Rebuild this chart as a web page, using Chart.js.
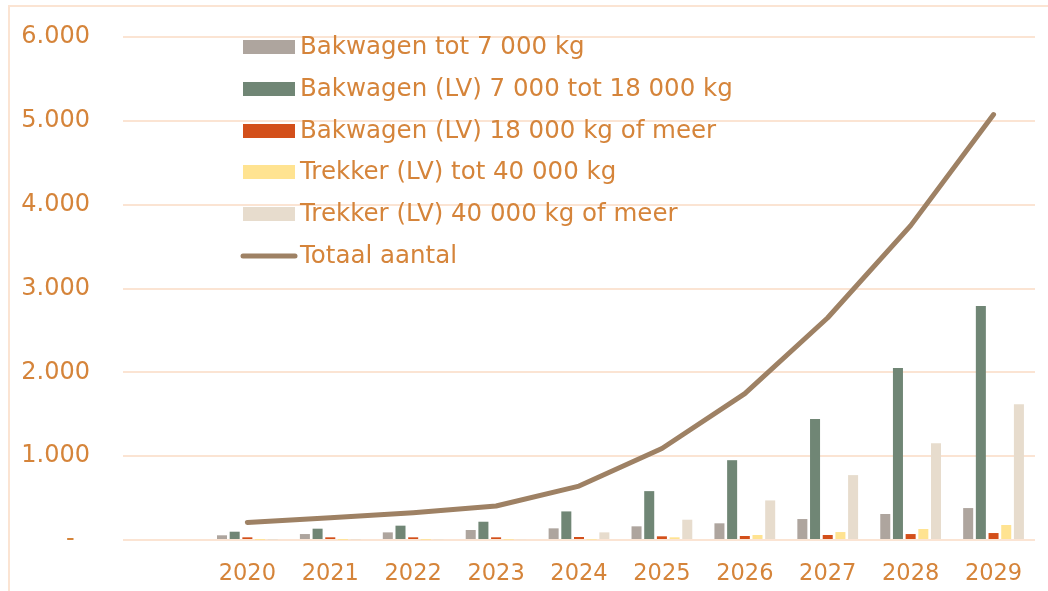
<!DOCTYPE html>
<html>
<head>
<meta charset="utf-8">
<script src="https://cdn.jsdelivr.net/npm/chart.js@4"></script>
<style>
  body { margin: 0; background: #fff; }
  #wrap { width: 1048px; height: 591px; position: relative; }
</style>
</head>
<body>
<div id="wrap"><canvas id="grafiek" width="1048" height="591"></canvas></div>
<script>
// categorieen (eerste is leeg, zoals in de bron)
const jaren = ['', '2020', '2021', '2022', '2023', '2024', '2025', '2026', '2027', '2028', '2029'];

const bakwagenTot7000 = [null, 56, 71, 91, 119, 139, 163, 199, 250, 310, 381];
const bakwagen7000tot18000 = [null, 99, 135, 171, 218, 341, 583, 952, 1444, 2052, 2790];
const bakwagen18000ofMeer = [null, 32, 32, 32, 32, 36, 44, 48, 60, 71, 83];
const trekkerTot40000 = [null, 2, 2, 3, 4, 5, 32, 60, 95, 131, 179];
const trekker40000ofMeer = [null, 4, 6, 8, 10, 91, 242, 472, 774, 1155, 1619];
const totaalAantal = [null, 210, 266, 325, 405, 643, 1091, 1746, 2651, 3750, 5075];

const yTicks = [0, 1000, 2000, 3000, 4000, 5000, 6000];

const oranje = '#D5843A';
const rasterKleur = '#FBE4D3';
const font = 'DejaVu Sans';

function formatNL(v) {
    if (v === 0) return '-  ';
    return String(v).replace(/\B(?=(\d{3})+(?!\d))/g, '.');
}

// rand + legenda binnen het plotgebied
const extraTekenen = {
    id: 'extraTekenen',
    beforeDraw(chart) {
        const ctx = chart.ctx;
        ctx.save();
        ctx.strokeStyle = rasterKleur;
        ctx.lineWidth = 2;
        ctx.beginPath();
        ctx.moveTo(9, 591);
        ctx.lineTo(9, 6);
        ctx.lineTo(1048, 6);
        ctx.stroke();
        ctx.restore();
    },
    afterDraw(chart) {
        const ctx = chart.ctx;
        ctx.save();
        ctx.font = '24.5px "' + font + '"';
        ctx.textBaseline = 'middle';
        ctx.textAlign = 'left';
        const rijen = [47, 89, 131, 172, 214, 256];
        chart.data.datasets.forEach((ds, n) => {
            const y = rijen[n];
            if (ds.type === 'line') {
                ctx.strokeStyle = ds.borderColor;
                ctx.lineWidth = 5;
                ctx.lineCap = 'round';
                ctx.beginPath();
                ctx.moveTo(243, y);
                ctx.lineTo(295, y);
                ctx.stroke();
            } else {
                ctx.fillStyle = ds.backgroundColor;
                ctx.fillRect(243, y - 7, 52, 14);
            }
            ctx.fillStyle = oranje;
            ctx.fillText(ds.label, 300, y + 1);
        });
        ctx.restore();
    }
};

const grafiek = new Chart(document.getElementById('grafiek').getContext('2d'), {
    type: 'bar',
    data: {
        labels: jaren,
        datasets: [
            { label: 'Bakwagen tot 7 000 kg', data: bakwagenTot7000, backgroundColor: '#AEA59E', order: 1 },
            { label: 'Bakwagen (LV) 7 000 tot 18 000 kg', data: bakwagen7000tot18000, backgroundColor: '#708675', order: 1 },
            { label: 'Bakwagen (LV) 18 000 kg of meer', data: bakwagen18000ofMeer, backgroundColor: '#D34F1A', order: 1 },
            { label: 'Trekker (LV) tot 40 000 kg', data: trekkerTot40000, backgroundColor: '#FFE391', order: 1 },
            { label: 'Trekker (LV) 40 000 kg of meer', data: trekker40000ofMeer, backgroundColor: '#E7DCCD', order: 1 },
            {
                type: 'line',
                label: 'Totaal aantal',
                data: totaalAantal,
                borderColor: '#9E8164',
                backgroundColor: '#9E8164',
                borderWidth: 5,
                pointRadius: 0,
                tension: 0,
                borderCapStyle: 'round',
                borderJoinStyle: 'round',
                order: 0
            }
        ]
    },
    options: {
        responsive: false,
        animation: false,
        layout: { padding: { top: 37, right: 13, left: 0, bottom: 0 } },
        datasets: {
            bar: { categoryPercentage: 0.765, barPercentage: 0.79 }
        },
        plugins: {
            legend: { display: false },
            tooltip: { enabled: false }
        },
        scales: {
            x: {
                grid: { display: false },
                border: { display: false },
                ticks: {
                    color: oranje,
                    font: { family: font, size: 22.5 },
                    padding: 13,
                    maxRotation: 0
                },
                afterFit(s) { s.height = 51; }
            },
            y: {
                min: 0,
                max: 6000,
                afterBuildTicks(s) { s.ticks = yTicks.map(v => ({ value: v })); },
                grid: { color: rasterKleur, lineWidth: 2, drawTicks: false },
                border: { display: false },
                ticks: {
                    color: oranje,
                    font: { family: font, size: 24 },
                    padding: 33,
                    callback: v => formatNL(v)
                },
                afterFit(s) {
                    s.width = 123;
                    s.paddingTop = 0;
                    s.paddingBottom = 0;
                }
            }
        }
    },
    plugins: [extraTekenen]
});
</script>
</body>
</html>
